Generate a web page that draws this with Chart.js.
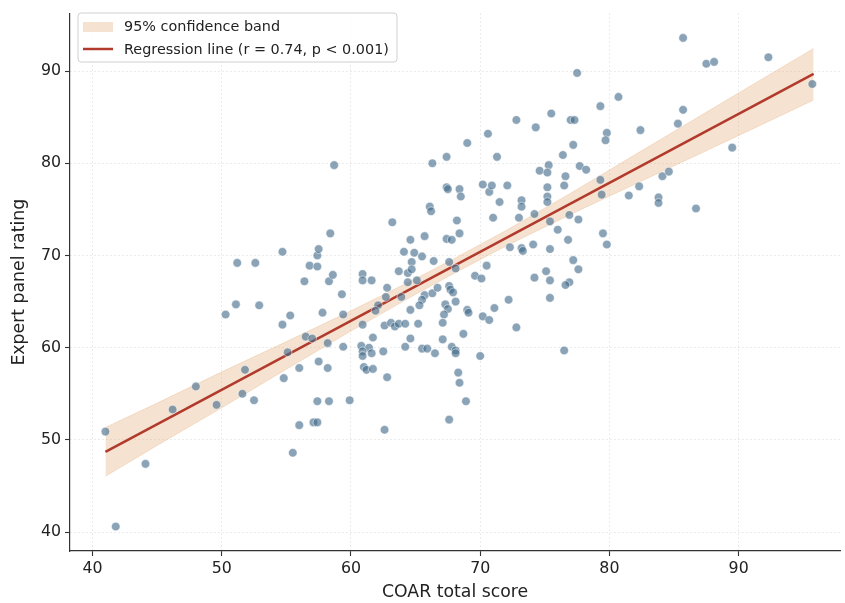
<!DOCTYPE html>
<html>
<head>
<meta charset="utf-8">
<script src="https://cdn.jsdelivr.net/npm/chart.js@4.4.1/dist/chart.umd.min.js"></script>
<style>
  html, body { margin: 0; padding: 0; background: #ffffff; }
  #wrap { width: 845px; height: 603px; position: relative; }
</style>
</head>
<body>
<div id="wrap"><canvas id="c" width="845" height="603"></canvas></div>
<script>
// ---- data ----
const xTickValues = [40, 50, 60, 70, 80, 90];
const yTickValues = [40, 50, 60, 70, 80, 90];

const coarScores = [
  41.0, 41.8, 44.1, 46.2, 48.0, 49.6, 51.6, 52.5, 51.8, 50.3,
  51.1, 52.9, 51.2, 52.6, 54.7, 54.7, 55.3, 55.1, 56.0, 54.8,
  56.0, 57.1, 57.4, 57.4, 58.3, 57.5, 58.2, 58.2, 59.4, 56.5,
  57.0, 57.8, 59.4, 59.3, 56.4, 58.3, 58.6, 56.8, 57.4, 57.4,
  57.5, 59.9, 55.5, 58.7, 58.4,
  66.3, 67.4, 69.0, 67.4, 67.5, 68.4, 68.5, 70.2, 70.7, 71.0,
  66.1, 66.2, 68.2, 68.4, 67.4, 67.8, 63.2, 65.7, 64.6, 60.9,
  61.7, 60.9, 60.9, 61.6, 64.1, 64.9, 64.7, 65.5, 66.4, 63.7,
  64.4, 64.7, 62.8, 64.4, 65.1, 62.7, 62.1, 61.9, 63.9, 65.7,
  65.5, 65.3, 66.3, 66.7, 67.6, 67.7, 67.9, 68.1, 67.6, 68.1,
  67.3, 67.5, 67.2, 64.6, 69.0, 69.1, 69.6, 70.1, 70.5, 71.1,
  70.2, 70.7, 68.7, 67.1, 62.6, 63.1, 63.4, 63.7, 64.2, 65.2,
  64.6, 67.1,
  60.8, 61.4, 60.9, 60.9, 61.6, 61.0, 61.2, 61.7, 62.5, 62.8,
  62.6, 64.2, 65.5, 65.9, 66.5, 67.8, 68.1, 68.1, 70.0, 68.3,
  68.4, 68.9, 67.6,
  77.5, 80.7, 79.3, 75.5, 72.8, 74.3, 77.0, 77.3, 70.6, 79.8,
  79.7, 82.4, 77.2, 76.4, 71.3, 74.6, 75.3, 75.2, 77.7, 78.2,
  76.6, 72.1, 70.9, 71.5, 73.2, 73.2, 75.2, 76.5, 75.2, 75.2,
  79.3, 79.4, 74.2, 73.0, 75.4, 76.9, 77.6, 76.0, 76.8, 79.5,
  79.8, 72.3, 73.2, 73.3, 74.1, 75.4, 77.2, 81.5, 82.3, 84.1,
  83.8, 83.8,
  77.6, 75.1, 74.2, 75.4, 76.9, 76.6, 72.2, 75.4, 72.8, 76.5,
  85.7, 87.5, 88.1, 92.3, 95.7, 85.7, 85.3, 89.5, 84.6, 86.7
];
const panelRatings = [
  50.9, 40.6, 47.4, 53.3, 55.8, 53.8, 55.0, 54.3, 57.6, 63.6,
  64.7, 64.6, 69.2, 69.2, 70.4, 62.5, 63.5, 59.5, 57.8, 56.7,
  51.6, 51.9, 51.9, 54.2, 54.2, 58.5, 57.8, 60.5, 60.1, 61.2,
  61.0, 63.8, 63.6, 65.8, 67.2, 67.2, 67.9, 68.9, 68.8, 70.0,
  70.7, 54.3, 48.6, 79.8, 72.4,
  80.0, 80.7, 82.2, 77.4, 77.2, 77.2, 76.4, 77.7, 76.9, 74.1,
  75.3, 74.8, 73.8, 72.4, 71.8, 71.7, 73.6, 72.1, 71.7, 62.5,
  61.1, 68.0, 67.3, 67.3, 70.4, 70.3, 69.3, 69.9, 69.4, 68.3,
  68.1, 68.5, 66.5, 67.1, 67.3, 65.5, 64.6, 64.0, 65.5, 65.7,
  65.2, 64.6, 65.9, 66.5, 66.7, 66.3, 66.0, 65.0, 69.3, 68.6,
  64.7, 64.2, 63.6, 64.1, 64.1, 63.8, 67.8, 67.5, 68.9, 64.3,
  63.4, 63.0, 61.5, 62.7, 62.4, 62.7, 62.3, 62.6, 62.6, 62.6,
  61.0, 60.9,
  60.2, 60.0, 59.6, 59.1, 59.4, 57.9, 57.6, 57.7, 59.6, 56.8,
  51.1, 60.1, 59.9, 59.9, 59.4, 60.1, 59.7, 59.4, 59.1, 57.3,
  56.2, 54.2, 52.2,
  89.8, 87.2, 86.2, 85.4, 84.7, 83.9, 84.7, 84.7, 83.2, 83.3,
  82.5, 83.6, 82.0, 80.9, 80.7, 79.2, 79.8, 79.0, 79.7, 79.3,
  78.6, 77.6, 77.6, 75.8, 76.0, 75.3, 77.4, 77.6, 76.4, 75.8,
  78.2, 76.6, 74.5, 74.1, 73.7, 74.4, 73.9, 72.8, 71.7, 72.4,
  71.2, 70.9, 70.8, 70.5, 71.2, 70.7, 69.5, 76.5, 77.5, 78.6,
  76.3, 75.7,
  68.5, 68.3, 67.6, 67.3, 67.1, 66.8, 65.2, 65.4, 62.2, 59.7,
  93.6, 90.8, 91.0, 91.5, 88.6, 85.8, 84.3, 81.7, 79.1, 75.1
];

// regression line end points and confidence band
const fitX = [41.0, 95.8];
const fitY = [48.7, 89.7];
const bandX =     [41.0, 45.0, 50.0, 55.0, 60.0, 65.0, 68.0, 72.0, 77.0, 82.0, 87.0, 91.0, 95.8];
const bandUpper = [51.35, 53.99, 57.38, 60.66, 64.00, 67.49, 69.68, 72.72, 76.76, 80.95, 85.13, 88.47, 92.46];
const bandLower = [46.05, 49.39, 53.48, 57.66, 61.80, 65.79, 68.08, 71.02, 74.46, 77.75, 81.03, 83.67, 86.86];

const legendLabels = ['95% confidence band', 'Regression line (r = 0.74, p < 0.001)'];
const xTitle = 'COAR total score';
const yTitle = 'Expert panel rating';

// ---- build chart ----
const pts = coarScores.map((x, i) => ({ x: x, y: panelRatings[i] }));
const fitPts = fitX.map((x, i) => ({ x: x, y: fitY[i] }));
const upPts = bandX.map((x, i) => ({ x: x, y: bandUpper[i] }));
const loPts = bandX.map((x, i) => ({ x: x, y: bandLower[i] }));

const FONT = "'DejaVu Sans', sans-serif";
const BAND_FILL = 'rgba(226,168,112,0.33)';
const LINE_COLOR = '#b23a2c';

const legendPlugin = {
  id: 'boxLegend',
  afterDraw(chart) {
    const ctx = chart.ctx;
    ctx.save();
    const x0 = 78, y0 = 13, w = 319, h = 49, r = 3;
    ctx.beginPath();
    ctx.moveTo(x0 + r, y0);
    ctx.lineTo(x0 + w - r, y0); ctx.arcTo(x0 + w, y0, x0 + w, y0 + r, r);
    ctx.lineTo(x0 + w, y0 + h - r); ctx.arcTo(x0 + w, y0 + h, x0 + w - r, y0 + h, r);
    ctx.lineTo(x0 + r, y0 + h); ctx.arcTo(x0, y0 + h, x0, y0 + h - r, r);
    ctx.lineTo(x0, y0 + r); ctx.arcTo(x0, y0, x0 + r, y0, r);
    ctx.closePath();
    ctx.fillStyle = 'rgba(255,255,255,0.85)';
    ctx.fill();
    ctx.strokeStyle = '#d0d0d0';
    ctx.lineWidth = 1;
    ctx.stroke();
    // patch
    ctx.fillStyle = BAND_FILL;
    ctx.fillRect(83, 22, 30, 10);
    // line
    ctx.strokeStyle = LINE_COLOR;
    ctx.lineWidth = 2.5;
    ctx.beginPath(); ctx.moveTo(83, 49); ctx.lineTo(113, 49); ctx.stroke();
    // text
    ctx.fillStyle = '#222';
    ctx.font = '14.4px ' + FONT;
    ctx.textBaseline = 'middle';
    ctx.textAlign = 'left';
    ctx.fillText(legendLabels[0], 124, 27.5);
    ctx.fillText(legendLabels[1], 124, 50);
    ctx.restore();
  }
};

new Chart(document.getElementById('c'), {
  type: 'scatter',
  data: {
    datasets: [
      {
        type: 'scatter',
        data: pts,
        order: 0,
        pointRadius: 4.3,
        pointHoverRadius: 4.3,
        backgroundColor: 'rgba(66,106,138,0.62)',
        borderColor: 'rgba(255,255,255,0.85)',
        borderWidth: 0.6
      },
      {
        type: 'line',
        data: fitPts,
        order: 1,
        borderColor: LINE_COLOR,
        borderWidth: 2.5,
        pointRadius: 0,
        fill: false,
        tension: 0
      },
      {
        type: 'line',
        data: upPts,
        order: 2,
        borderColor: 'rgba(226,168,112,0.35)',
        borderWidth: 0.8,
        backgroundColor: BAND_FILL,
        pointRadius: 0,
        fill: '+1',
        tension: 0
      },
      {
        type: 'line',
        data: loPts,
        order: 3,
        borderColor: 'rgba(226,168,112,0.35)',
        borderWidth: 0.8,
        pointRadius: 0,
        fill: false,
        tension: 0
      }
    ]
  },
  options: {
    responsive: false,
    animation: false,
    events: [],
    layout: { padding: { top: 9, right: 0, left: 0, bottom: 0 } },
    plugins: {
      legend: { display: false },
      tooltip: { enabled: false }
    },
    scales: {
      x: {
        type: 'linear',
        min: 38.26,
        max: 97.85,
        afterBuildTicks: (s) => { s.ticks = xTickValues.map(v => ({ value: v })); },
        afterFit: (s) => { s.height = 52; },
        grid: {
          color: '#e2e2e2',
          lineWidth: 0.9,
          drawTicks: true,
          tickLength: 5,
          tickColor: '#333',
          tickWidth: 1.1,
          tickBorderDash: []
        },
        border: { display: true, color: '#333', width: 1.2, dash: [1.5, 2.5] },
        ticks: {
          color: '#222',
          padding: 3.5,
          font: { family: FONT, size: 15.8 },
          maxRotation: 0,
          callback: (v) => String(v)
        },
        title: {
          display: true,
          text: xTitle,
          color: '#222',
          font: { family: FONT, size: 17.3 },
          padding: { top: 0, bottom: 0 }
        }
      },
      y: {
        type: 'linear',
        min: 37.95,
        max: 96.25,
        afterBuildTicks: (s) => { s.ticks = yTickValues.map(v => ({ value: v })); },
        afterFit: (s) => { s.width = 70; },
        grid: {
          color: '#e2e2e2',
          lineWidth: 0.9,
          drawTicks: true,
          tickLength: 5,
          tickColor: '#333',
          tickWidth: 1.1,
          tickBorderDash: []
        },
        border: { display: true, color: '#333', width: 1.2, dash: [1.5, 2.5] },
        ticks: {
          color: '#222',
          padding: 4,
          font: { family: FONT, size: 15.8 },
          callback: (v) => String(v)
        },
        title: {
          display: true,
          text: yTitle,
          color: '#222',
          font: { family: FONT, size: 17.3 },
          padding: { top: 9.5, bottom: 0 }
        }
      }
    }
  },
  plugins: [legendPlugin]
});
</script>
</body>
</html>
